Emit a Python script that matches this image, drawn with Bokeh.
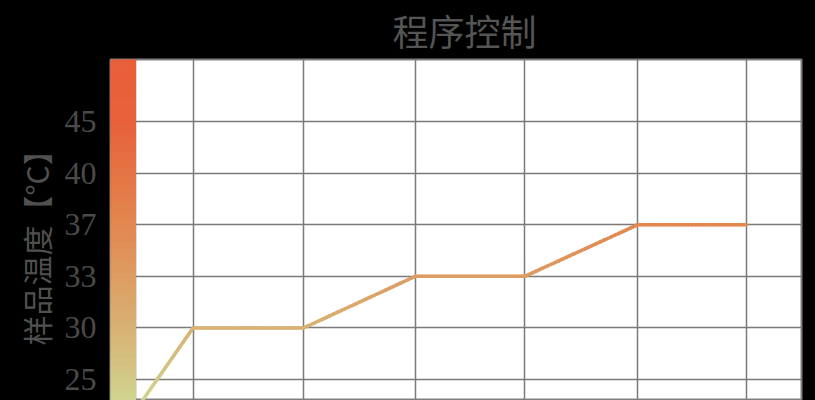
import numpy as np
from jinja2 import Template
from bokeh.plotting import figure
from bokeh.models import FixedTicker, Range1d
from bokeh.embed import file_html
from bokeh.resources import INLINE

# ---- data ----
title_text = "程序控制"
y_label = "样品温度【°C】"
time_min = [0, 5.2, 15.2, 25.3, 35.2, 45.4, 55.2]
temps = [22, 30, 30, 33, 33, 37, 37]
tick_values = [20, 25, 30, 33, 37, 40, 45]
tick_labels = ["20", "25", "30", "33", "37", "40", "45"]

# equally spaced tick positions (axis is spaced by tick index)
tick_pos = [i - 1 for i in range(len(tick_values))]
y_pos = np.interp(temps, tick_values, tick_pos)

# gradient stops (position on the index axis -> colour)
stop_pos = [-0.45, 1.0, 3.0, 5.0, 6.3]
stop_rgb = np.array([[208, 214, 146], [217, 178, 116], [226, 136, 80],
                     [232, 98, 58], [232, 95, 58]], dtype=float)


def grad(v):
    r = np.interp(v, stop_pos, stop_rgb[:, 0])
    g = np.interp(v, stop_pos, stop_rgb[:, 1])
    b = np.interp(v, stop_pos, stop_rgb[:, 2])
    return "#%02x%02x%02x" % (int(r), int(g), int(b))


xr = Range1d(-2.26, 60.2)
yr = Range1d(-0.407, 6.202)

p = figure(width=815, height=400, x_range=xr, y_range=yr,
           output_backend="svg", toolbar_location=None,
           min_border_left=110, min_border_right=14, min_border_top=59,
           min_border_bottom=0)
p.background_fill_color = "white"
p.border_fill_color = "black"
p.outline_line_color = "#7f7f7f"
p.outline_line_width = 2

p.title.text = title_text
p.title.align = "left"
p.title.offset = 282
p.title.text_font = "Noto Sans CJK SC"
p.title.text_font_size = "36px"
p.title.text_font_style = "normal"
p.title.text_color = "#555555"
p.title.vertical_align = "top"
p.title.standoff = 4

p.xaxis.visible = False
ax = p.yaxis[0]
ax.ticker = FixedTicker(ticks=tick_pos)
ax.major_label_overrides = {tp: lab for tp, lab in zip(tick_pos, tick_labels)}
ax.axis_line_color = None
ax.major_tick_line_color = None
ax.minor_tick_line_color = None
ax.major_label_text_font = "Liberation Serif"
ax.major_label_text_font_size = "32px"
ax.major_label_text_color = "#4a4a4a"
ax.major_label_standoff = 8
ax.axis_label = y_label + "\u2002\u2009"
ax.axis_label_text_font = "Noto Sans CJK SC"
ax.axis_label_text_font_size = "30px"
ax.axis_label_text_font_style = "normal"
ax.axis_label_text_color = "#505050"
ax.axis_label_standoff = 4

p.xgrid.ticker = FixedTicker(ticks=time_min)
p.ygrid.ticker = FixedTicker(ticks=tick_pos)
for g in (p.xgrid[0], p.ygrid[0]):
    g.grid_line_color = "#7a7a7a"
    g.grid_line_width = 1.5

# gradient bar on the left of the plot area
n = 120
edges = np.linspace(yr.start, yr.end, n + 1)
bar_cols = [grad((a + b) / 2) for a, b in zip(edges[:-1], edges[1:])]
p.quad(left=xr.start, right=time_min[0], bottom=edges[:-1], top=edges[1:],
       fill_color=bar_cols, line_color=bar_cols, line_width=1)

# gradient coloured line
x0s, y0s, x1s, y1s, cols = [], [], [], [], []
for i in range(len(time_min) - 1):
    xs = np.linspace(time_min[i], time_min[i + 1], 31)
    ys = np.linspace(y_pos[i], y_pos[i + 1], 31)
    for j in range(30):
        x0s.append(xs[j]); x1s.append(xs[j + 1])
        y0s.append(ys[j]); y1s.append(ys[j + 1])
        cols.append(grad((ys[j] + ys[j + 1]) / 2))
p.segment(x0=x0s, y0=y0s, x1=x1s, y1=y1s, line_color=cols, line_width=3.5,
          line_cap="round")

tmpl = Template("{% extends base %}{% block preamble %}<style>html,body{background:#000;}</style>{% endblock %}")
open("out.html", "w").write(file_html(p, INLINE, template=tmpl))
